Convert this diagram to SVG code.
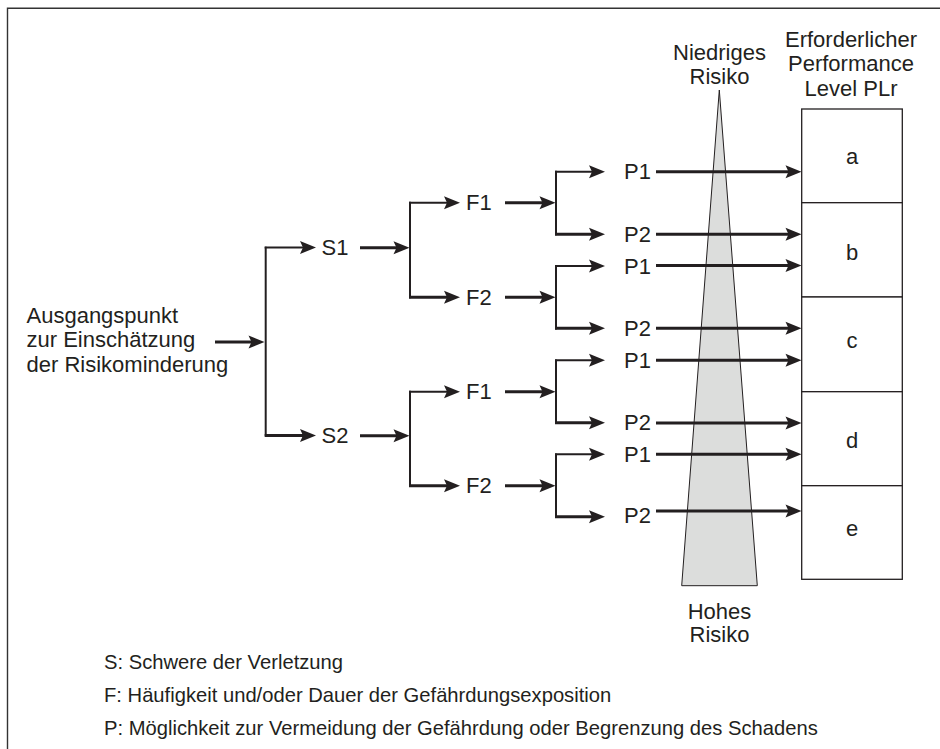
<svg xmlns="http://www.w3.org/2000/svg" width="940" height="749" viewBox="0 0 940 749">
<style>
text{font-family:"Liberation Sans",Arial,sans-serif;fill:#231f20}
.t{font-size:22px}
.m{text-anchor:middle}
.lg{font-size:20.2px}
.ln{fill:none;stroke:#231f20;stroke-linecap:butt;stroke-linejoin:miter}
.v{stroke-width:2}
.a{stroke-width:3}
.b{stroke-width:2.2}
.box{fill:#fff;stroke:#231f20;stroke-width:1.3}
</style>
<defs>
<marker id="ah" markerUnits="userSpaceOnUse" markerWidth="30" markerHeight="20" viewBox="-10 -10 30 20" refX="0" refY="0" orient="auto" overflow="visible">
<path d="M10,0 L-6,-6.5 L-3,0 L-6,6.5 Z" fill="#231f20"/>
</marker>
</defs>
<rect width="940" height="749" fill="#fff"/>
<g id="frame"><path d="M7.5,749 V8.3 H940" fill="none" stroke="#333" stroke-width="1.4"/></g>

<g id="risk-triangle">
<polygon points="719.3,90 757.3,585.7 681.7,585.7" fill="#dcdddc" stroke="#231f20" stroke-width="1"/>
<text class="t m" x="719.5" y="60">Niedriges</text>
<text class="t m" x="719.5" y="83.5">Risiko</text>
<text class="t m" x="719.5" y="618.5">Hohes</text>
<text class="t m" x="719.5" y="642">Risiko</text>
</g>

<g id="plr-header"><text class="t m" x="851" y="46.7">Erforderlicher</text><text class="t m" x="851" y="71">Performance</text><text class="t m" x="851" y="95.7">Level PLr</text></g>
<g id="plr-a"><rect class="box" x="801.7" y="109" width="100.6" height="93.7"/><text class="t m" x="852" y="164.3">a</text></g>
<g id="plr-b"><rect class="box" x="801.7" y="202.7" width="100.6" height="94.3"/><text class="t m" x="852" y="260">b</text></g>
<g id="plr-c"><rect class="box" x="801.7" y="297" width="100.6" height="94.7"/><text class="t m" x="852" y="348">c</text></g>
<g id="plr-d"><rect class="box" x="801.7" y="391.7" width="100.6" height="94"/><text class="t m" x="852" y="448.3">d</text></g>
<g id="plr-e"><rect class="box" x="801.7" y="485.7" width="100.6" height="93.6"/><text class="t m" x="852" y="536">e</text></g>

<g id="connectors">
<path class="ln a" d="M215,342 H254.5" marker-end="url(#ah)"/>
<path class="ln v" d="M265.7,246.7 V436.2"/>
<path class="ln v" d="M264.7,247.5 H306" marker-end="url(#ah)"/>
<path class="ln a" d="M264.7,435.5 H306" marker-end="url(#ah)"/>
<path class="ln a" d="M360,247.7 H399.5" marker-end="url(#ah)"/>
<path class="ln a" d="M360,435.7 H399.5" marker-end="url(#ah)"/>
<path class="ln v" d="M410,201.8 V298.3"/>
<path class="ln v" d="M410,390.8 V486.8"/>
<path class="ln v" d="M409,202.7 H450" marker-end="url(#ah)"/>
<path class="ln a" d="M409,297.3 H450" marker-end="url(#ah)"/>
<path class="ln v" d="M409,391.7 H450" marker-end="url(#ah)"/>
<path class="ln a" d="M409,485.7 H450" marker-end="url(#ah)"/>
<path class="ln a" d="M505,202.7 H545.5" marker-end="url(#ah)"/>
<path class="ln a" d="M505,297.3 H545.5" marker-end="url(#ah)"/>
<path class="ln a" d="M505,391.7 H545.5" marker-end="url(#ah)"/>
<path class="ln a" d="M505,485.7 H545.5" marker-end="url(#ah)"/>
<path class="ln v" d="M556,170.8 V235.2"/>
<path class="ln v" d="M556,265 V329.4"/>
<path class="ln v" d="M556,359.4 V423.8"/>
<path class="ln v" d="M556,453.4 V517.8"/>
<path class="ln v" d="M555,171.7 H595" marker-end="url(#ah)"/>
<path class="ln a" d="M555,234.2 H595" marker-end="url(#ah)"/>
<path class="ln v" d="M555,266 H595" marker-end="url(#ah)"/>
<path class="ln a" d="M555,328.3 H595" marker-end="url(#ah)"/>
<path class="ln v" d="M555,360.3 H595" marker-end="url(#ah)"/>
<path class="ln a" d="M555,422.7 H595" marker-end="url(#ah)"/>
<path class="ln v" d="M555,454.3 H595" marker-end="url(#ah)"/>
<path class="ln a" d="M555,516.7 H595" marker-end="url(#ah)"/>
<path class="ln a" d="M656,171.7 H791.5" marker-end="url(#ah)"/>
<path class="ln a" d="M656,234.3 H791.5" marker-end="url(#ah)"/>
<path class="ln a" d="M656,265.6 H791.5" marker-end="url(#ah)"/>
<path class="ln a" d="M656,328.3 H791.5" marker-end="url(#ah)"/>
<path class="ln a" d="M656,360.3 H791.5" marker-end="url(#ah)"/>
<path class="ln a" d="M656,423 H791.5" marker-end="url(#ah)"/>
<path class="ln a" d="M656,454.3 H791.5" marker-end="url(#ah)"/>
<path class="ln a" d="M656,511 H791.5" marker-end="url(#ah)"/>
</g>

<g id="start"><text class="t" x="26.5" y="323.3">Ausgangspunkt</text><text class="t" x="26.5" y="347.3">zur Einschätzung</text><text class="t" x="26.5" y="371.5">der Risikominderung</text></g>
<g id="S1"><text class="t" x="321.5" y="255.3">S1</text></g>
<g id="S2"><text class="t" x="321.5" y="443.3">S2</text></g>
<g id="S1-F1"><text class="t" x="466" y="210.3">F1</text></g>
<g id="S1-F2"><text class="t" x="466" y="304.8">F2</text></g>
<g id="S2-F1"><text class="t" x="466" y="399.2">F1</text></g>
<g id="S2-F2"><text class="t" x="466" y="493.2">F2</text></g>
<g id="P-1"><text class="t" x="624" y="179.3">P1</text></g>
<g id="P-2"><text class="t" x="624" y="241.8">P2</text></g>
<g id="P-3"><text class="t" x="624" y="273.5">P1</text></g>
<g id="P-4"><text class="t" x="624" y="335.8">P2</text></g>
<g id="P-5"><text class="t" x="624" y="367.8">P1</text></g>
<g id="P-6"><text class="t" x="624" y="430.3">P2</text></g>
<g id="P-7"><text class="t" x="624" y="461.8">P1</text></g>
<g id="P-8"><text class="t" x="624" y="523">P2</text></g>

<g id="legend">
<text class="lg" x="104" y="669">S: Schwere der Verletzung</text>
<text class="lg" x="104" y="702">F: Häufigkeit und/oder Dauer der Gefährdungsexposition</text>
<text class="lg" x="104" y="735">P: Möglichkeit zur Vermeidung der Gefährdung oder Begrenzung des Schadens</text>
</g>
</svg>
